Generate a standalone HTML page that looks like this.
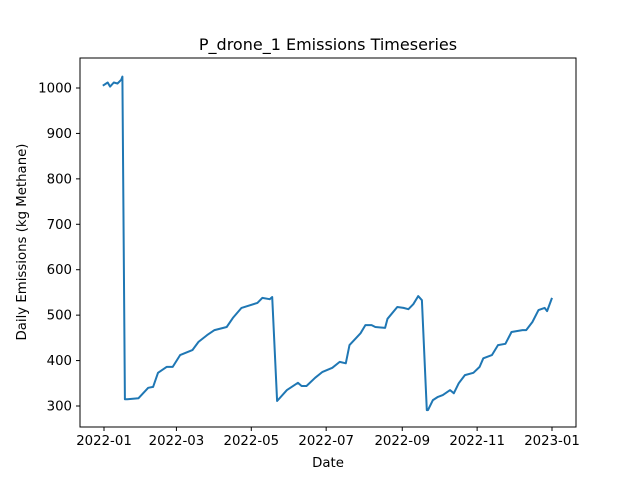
<!DOCTYPE html>
<html><head><meta charset="utf-8"><style>
body{margin:0;background:#fff}
svg text{font-family:"DejaVu Sans","Liberation Sans",sans-serif;fill:#000}
</style></head><body>
<svg id="chart" width="640" height="480" xmlns="http://www.w3.org/2000/svg">
<rect x="0" y="0" width="640" height="480" fill="#fff"/>
<text x="328" y="50" font-size="16" text-anchor="middle">P_drone_1 Emissions Timeseries</text>
<g id="plot"></g>
<rect x="80" y="58" width="496" height="369" fill="none" stroke="#000" stroke-width="1"/>
<g id="xt"></g><g id="yt"></g>
<text x="328" y="467" font-size="13.3" text-anchor="middle">Date</text>
<text transform="translate(26,242) rotate(-90)" font-size="13.3" text-anchor="middle">Daily Emissions (kg Methane)</text>
</svg>
<script>
const days=[-1,3,5,8,11,14,15,17,19,28,36,40,44,51,56,62,72,77,84,90,100,105,112,125,129,135,137,141,149,158,161,165,172,178,186,192,197,200,209,213,218,221,229,231,239,244,248,252,256,259,263,264,268,272,276,282,285,289,294,301,306,309,316,321,327,332,341,344,349,354,359,361,365];
const values=[1005,1012,1003,1012,1010,1018,1025,315,315,317,340,342,373,386,386,412,423,441,456,467,474,494,516,527,538,535,540,311,335,351,344,344,362,375,384,397,394,434,460,478,478,474,472,492,518,516,513,524,542,533,291,291,313,320,324,335,328,350,368,373,386,405,412,434,437,463,467,467,485,511,516,509,538];
const xTickLabels=["2022-01","2022-03","2022-05","2022-07","2022-09","2022-11","2023-01"];
const xTickDays=[0,59,120,181,243,304,365];
const yTicks=[300,400,500,600,700,800,900,1000];
const NS="http://www.w3.org/2000/svg";
const xs=d=>104+d*448/365;
const ys=v=>406-(v-300)*(318/700);
const plot=document.getElementById('plot');
const line=document.createElementNS(NS,'polyline');


line.setAttribute('points',days.map((d,i)=>xs(d).toFixed(1)+','+ys(values[i]).toFixed(1)).join(' '));
line.setAttribute('fill','none');line.setAttribute('stroke','#1f77b4');line.setAttribute('stroke-width','2');line.setAttribute('stroke-linejoin','round');
plot.appendChild(line);
const xt=document.getElementById('xt');
xTickDays.forEach((d,i)=>{const x=xs(d);
 const t=document.createElementNS(NS,'line');
 
 
 t.setAttribute('x1',x);t.setAttribute('x2',x);t.setAttribute('y1',427);t.setAttribute('y2',431);t.setAttribute('stroke','#000');xt.appendChild(t);
 const l=document.createElementNS(NS,'text');
 
 
 l.setAttribute('x',x);l.setAttribute('y',445);l.setAttribute('font-size','13.3');l.setAttribute('text-anchor','middle');l.textContent=xTickLabels[i];xt.appendChild(l);});
const yt=document.getElementById('yt');
yTicks.forEach(v=>{const y=ys(v);
 const t=document.createElementNS(NS,'line');
 
 
 t.setAttribute('x1',76);t.setAttribute('x2',80);t.setAttribute('y1',y);t.setAttribute('y2',y);t.setAttribute('stroke','#000');yt.appendChild(t);
 const l=document.createElementNS(NS,'text');
 
 
 l.setAttribute('x',72);l.setAttribute('y',y+4.5);l.setAttribute('font-size','13.3');l.setAttribute('text-anchor','end');l.textContent=v;yt.appendChild(l);});
</script>
</body></html>
